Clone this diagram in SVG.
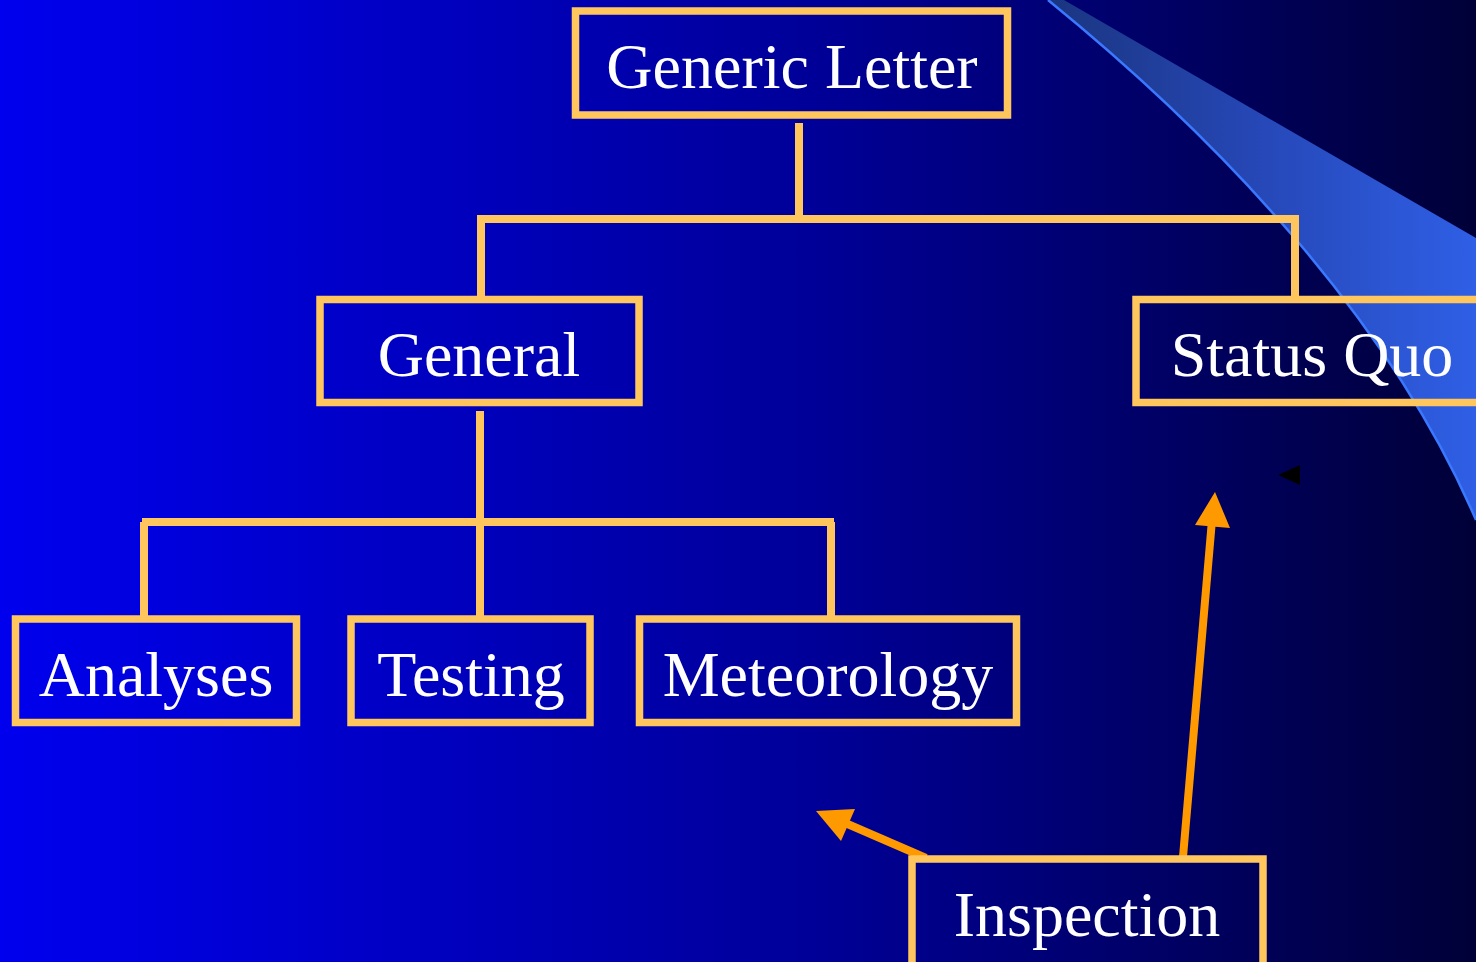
<svg xmlns="http://www.w3.org/2000/svg" width="1476" height="962" viewBox="0 0 1476 962">
<defs>
<linearGradient id="bg" x1="0" y1="0" x2="1" y2="0">
<stop offset="0" stop-color="#0000EE"/>
<stop offset="0.55" stop-color="#000098"/>
<stop offset="1" stop-color="#000038"/>
</linearGradient>
<linearGradient id="sw" gradientUnits="userSpaceOnUse" x1="1050" y1="0" x2="1476" y2="0">
<stop offset="0" stop-color="#1a3580"/>
<stop offset="0.5" stop-color="#2648b8"/>
<stop offset="1" stop-color="#2f5fe6"/>
</linearGradient>
<marker id="ah" markerUnits="userSpaceOnUse" markerWidth="40" markerHeight="40" viewBox="0 0 40 40" refX="36" refY="20" orient="auto">
<path d="M0,2 L36,20 L0,38 Z" fill="#FF9900"/>
</marker>
<style>
.box{fill:none;stroke:#FFC65E;stroke-width:7.5}
.con{fill:none;stroke:#FFC65E;stroke-width:8}
.arr{fill:none;stroke:#FF9900;stroke-width:8}
.lbl{font-family:"Liberation Serif","Times New Roman",serif;font-size:64px;fill:#FFFFFF;text-anchor:middle}
</style>
</defs>
<rect x="0" y="0" width="1476" height="962" fill="url(#bg)"/>
<path d="M1048,0 L1064,0 L1476,238 L1476,520 C1390,320 1220,140 1048,0 Z" fill="url(#sw)"/>
<path d="M1048,0 C1220,140 1390,320 1476,520" fill="none" stroke="#3a78ff" stroke-width="2.5"/>
<g id="connectors">
<path class="con" d="M799,123 V219 M477,219 H1299 M481,219 V296 M1295,219 V296"/>
<path class="con" d="M480,411 V522 M142,522 H834 M144,522 V616 M480,522 V616 M831,522 V616"/>
<line class="arr" x1="926" y1="858" x2="836" y2="819"/>
<path d="M816,811 L855,809 L841,841 Z" fill="#FF9900"/>
<line class="arr" x1="1183" y1="857" x2="1212" y2="520"/>
<path d="M1215,492 L1195,525 L1230,528 Z" fill="#FF9900"/>
<path d="M1278,475 L1300,465 L1300,485 Z" fill="#000000"/>
</g>
<g id="generic-letter">
<rect class="box" x="575.5" y="11" width="432" height="104"/>
<text class="lbl" x="792" y="88">Generic Letter</text>
</g>
<g id="general">
<rect class="box" x="320" y="299.5" width="319" height="103"/>
<text class="lbl" x="479" y="376">General</text>
</g>
<g id="status-quo">
<rect class="box" x="1136" y="299.5" width="360" height="103"/>
<text class="lbl" x="1312" y="376">Status Quo</text>
</g>
<g id="analyses">
<rect class="box" x="15.5" y="619" width="281" height="103.5"/>
<text class="lbl" x="156" y="696">Analyses</text>
</g>
<g id="testing">
<rect class="box" x="351" y="619" width="239" height="103.5"/>
<text class="lbl" x="471" y="696">Testing</text>
</g>
<g id="meteorology">
<rect class="box" x="639.5" y="619" width="377" height="103.5"/>
<text class="lbl" x="828" y="696">Meteorology</text>
</g>
<g id="inspection">
<rect class="box" x="912" y="859" width="351" height="120"/>
<text class="lbl" x="1087" y="936">Inspection</text>
</g>
</svg>
